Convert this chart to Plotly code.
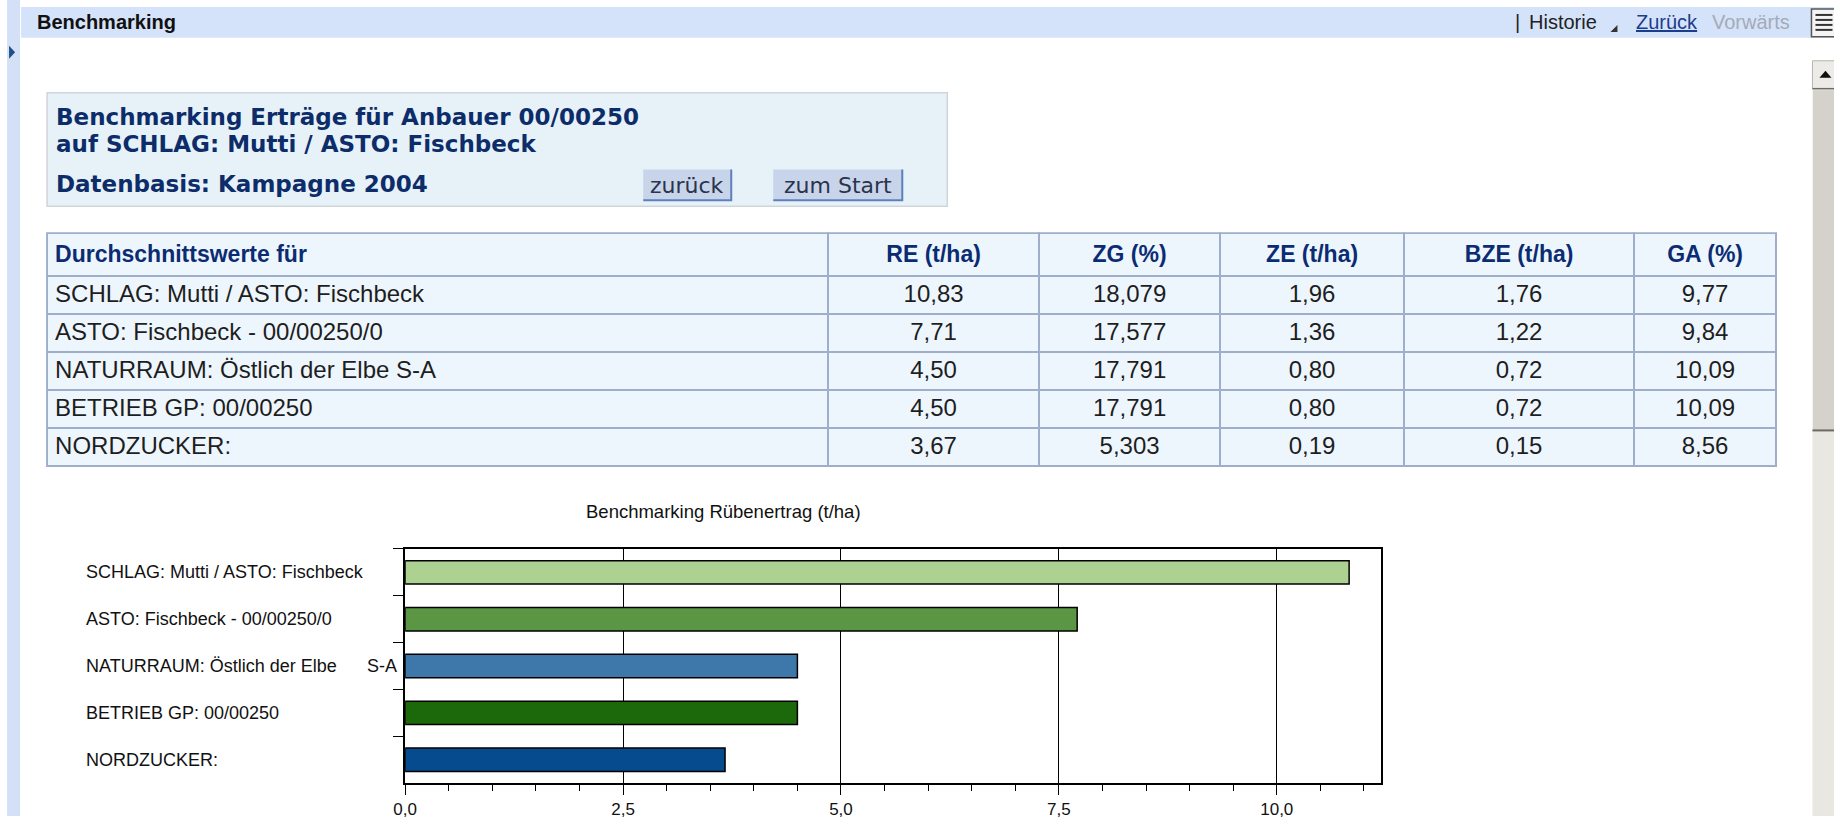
import plotly.graph_objects as go

W, H = 1834, 819

# ---------------- data ----------------
categories = [
    "SCHLAG: Mutti / ASTO: Fischbeck",
    "ASTO: Fischbeck - 00/00250/0",
    "NATURRAUM: Östlich der Elbe S-A",
    "BETRIEB GP: 00/00250",
    "NORDZUCKER:",
]
re_t_ha = [10.83, 7.71, 4.50, 4.50, 3.67]
zg_pct = [18.079, 17.577, 17.791, 17.791, 5.303]
ze_t_ha = [1.96, 1.36, 0.80, 0.80, 0.19]
bze_t_ha = [1.76, 1.22, 0.72, 0.72, 0.15]
ga_pct = [9.77, 9.84, 10.09, 10.09, 8.56]
column_headers = ["Durchschnittswerte für", "RE (t/ha)", "ZG (%)", "ZE (t/ha)", "BZE (t/ha)", "GA (%)"]

chart_title = "Benchmarking Rübenertrag (t/ha)"
chart_label_main = ["SCHLAG: Mutti / ASTO: Fischbeck", "ASTO: Fischbeck - 00/00250/0",
                    "NATURRAUM: Östlich der Elbe", "BETRIEB GP: 00/00250", "NORDZUCKER:"]
chart_label_wrap = ["", "", "S-A", "", ""]
x_tick_values = [0, 2.5, 5, 7.5, 10]
bar_colors = ["#acd190", "#5a9643", "#3e78aa", "#1b690b", "#064b8e"]

page_title = "Benchmarking"
header_lines = ["Benchmarking Erträge für Anbauer 00/00250",
                "auf SCHLAG: Mutti / ASTO: Fischbeck",
                "Datenbasis: Kampagne 2004"]
buttons = ["zurück", "zum Start"]


def px(x):
    # horizontal page position (pixels) -> paper fraction, with a small
    # empirical correction for the rendered horizontal placement
    return (1.0068 * x - 12.0) / W


def py(y):
    return 1 - y / H


def de(v, d):
    return f"{v:.{d}f}".replace(".", ",")


SANS = "Liberation Sans, Arial, sans-serif"
VERD = "DejaVu Sans, Verdana, sans-serif"
NAVY = "#0b2c72"

fig = go.Figure()

# ---------------- table ----------------
fig.add_trace(go.Table(
    domain=dict(x=[px(47), px(1776)], y=[py(469), py(234)]),
    columnwidth=[781, 211, 181, 184, 230, 142],
    header=dict(
        values=[f"<b>{h}</b>" for h in column_headers],
        fill_color="#eef6fd",
        line=dict(color="#9eaecb", width=1.5),
        align=["left"] + ["center"] * 5,
        font=dict(family=SANS, size=23, color=NAVY),
        height=43,
    ),
    cells=dict(
        values=[categories,
                [de(v, 2) for v in re_t_ha],
                [de(v, 3) for v in zg_pct],
                [de(v, 2) for v in ze_t_ha],
                [de(v, 2) for v in bze_t_ha],
                [de(v, 2) for v in ga_pct]],
        fill_color="#eef6fd",
        line=dict(color="#9eaecb", width=1.5),
        align=["left"] + ["center"] * 5,
        font=dict(family=SANS, size=24, color="#1e1e1e"),
        height=38,
    ),
))

# ---------------- bar chart ----------------
fig.add_trace(go.Bar(
    x=re_t_ha, y=categories, orientation="h", width=0.5,
    marker=dict(color=bar_colors, line=dict(color="black", width=1.5)),
    xaxis="x", yaxis="y", showlegend=False,
))

shapes = []
annotations = []

# left strip + top bar
shapes.append(dict(type="rect", xref="paper", yref="paper", x0=px(7), x1=px(20), y0=0, y1=1,
                   fillcolor="#d3e0f6", line_width=0, layer="below"))
shapes.append(dict(type="rect", xref="paper", yref="paper", x0=px(21), x1=1, y0=py(38), y1=py(7),
                   fillcolor="#d5e3fa", line_width=0, layer="below"))
shapes.append(dict(type="path", xref="paper", yref="paper",
                   path=f"M {px(9)} {py(46)} L {px(15)} {py(52.5)} L {px(9)} {py(59)} Z",
                   fillcolor="#1f4f8a", line_width=0))
annotations.append(dict(text=f"<b>{page_title}</b>", x=px(35), y=py(22), xref="paper", yref="paper",
                        xanchor="left", yanchor="middle", showarrow=False,
                        font=dict(family=SANS, size=20, color="#111")))
annotations.append(dict(text="|", x=px(1513), y=py(22), xref="paper", yref="paper",
                        xanchor="left", yanchor="middle", showarrow=False,
                        font=dict(family=SANS, size=20, color="#222")))
annotations.append(dict(text="Historie", x=px(1527), y=py(22), xref="paper", yref="paper",
                        xanchor="left", yanchor="middle", showarrow=False,
                        font=dict(family=SANS, size=20, color="#222")))
shapes.append(dict(type="path", xref="paper", yref="paper",
                   path=f"M {px(1610)} {py(32)} L {px(1617)} {py(25)} L {px(1617)} {py(32)} Z",
                   fillcolor="#333", line_width=0))
annotations.append(dict(text="<u>Zurück</u>", x=px(1634), y=py(22), xref="paper", yref="paper",
                        xanchor="left", yanchor="middle", showarrow=False,
                        font=dict(family=SANS, size=20, color="#1c3c8c")))
annotations.append(dict(text="Vorwärts", x=px(1710), y=py(22), xref="paper", yref="paper",
                        xanchor="left", yanchor="middle", showarrow=False,
                        font=dict(family=SANS, size=20, color="#a3abb9")))
# small icon at top right
shapes.append(dict(type="rect", xref="paper", yref="paper", x0=px(1811), x1=px(1836), y0=py(37), y1=py(9),
                   fillcolor="#f4f4f4", line=dict(color="#555", width=1.5)))
for yy in (15, 20, 25, 30):
    shapes.append(dict(type="line", xref="paper", yref="paper", x0=px(1815), x1=px(1832), y0=py(yy), y1=py(yy),
                       line=dict(color="#333", width=2)))

# scrollbar
shapes.append(dict(type="rect", xref="paper", yref="paper", x0=px(1812), x1=1, y0=0, y1=py(61),
                   fillcolor="#e9e7e2", line_width=0, layer="below"))
shapes.append(dict(type="rect", xref="paper", yref="paper", x0=px(1812), x1=1.002, y0=py(89), y1=py(61),
                   fillcolor="#ecebe7", line=dict(color="#b8b5ae", width=1)))
shapes.append(dict(type="path", xref="paper", yref="paper",
                   path=f"M {px(1819)} {py(78)} L {px(1825)} {py(71)} L {px(1831)} {py(78)} Z",
                   fillcolor="#111", line_width=0))
shapes.append(dict(type="rect", xref="paper", yref="paper", x0=px(1812), x1=1.002, y0=py(432), y1=py(90),
                   fillcolor="#d5d2cc", line=dict(color="#f4f3f0", width=1)))
shapes.append(dict(type="line", xref="paper", yref="paper", x0=px(1812), x1=1, y0=py(432), y1=py(432),
                   line=dict(color="#6b6a66", width=2)))
shapes.append(dict(type="line", xref="paper", yref="paper", x0=px(1812), x1=1, y0=py(89), y1=py(89),
                   line=dict(color="#6b6a66", width=1.5)))

# header box
shapes.append(dict(type="rect", xref="paper", yref="paper", x0=px(47), x1=px(947), y0=py(207), y1=py(93),
                   fillcolor="#e7f2f8", line=dict(color="#cfd5da", width=1.5), layer="below"))
for line_text, yy in zip(header_lines, (117, 145, 185)):
    annotations.append(dict(text=f"<b>{line_text}</b>", x=px(54), y=py(yy), xref="paper", yref="paper",
                            xanchor="left", yanchor="middle", showarrow=False,
                            font=dict(family=VERD, size=23, color="#0d2c6a")))
for label, (bx0, bx1) in zip(buttons, ((643, 731), (773, 902))):
    shapes.append(dict(type="rect", xref="paper", yref="paper", x0=px(bx0), x1=px(bx1), y0=py(201), y1=py(170),
                       fillcolor="#c8d4ea", line_width=0))
    shapes.append(dict(type="path", xref="paper", yref="paper",
                       path=f"M {px(bx0)} {py(201)} L {px(bx1)} {py(201)} L {px(bx1)} {py(170)}",
                       line=dict(color="#5d80bd", width=2)))
    annotations.append(dict(text=label, x=px((bx0 + bx1) / 2), y=py(186), xref="paper", yref="paper",
                            xanchor="center", yanchor="middle", showarrow=False,
                            font=dict(family=VERD, size=22, color="#2a344c")))

# chart title and category labels
annotations.append(dict(text=chart_title, x=px(723), y=py(513), xref="paper", yref="paper",
                        xanchor="center", yanchor="middle", showarrow=False,
                        font=dict(family=SANS, size=18.5, color="#111")))
for cat, main, wrap in zip(categories, chart_label_main, chart_label_wrap):
    annotations.append(dict(text=main, x=px(84), y=cat, xref="paper", yref="y",
                            xanchor="left", yanchor="middle", showarrow=False,
                            font=dict(family=SANS, size=18, color="#111")))
    if wrap:
        annotations.append(dict(text=wrap, x=px(399), y=cat, xref="paper", yref="y",
                                xanchor="right", yanchor="middle", showarrow=False,
                                font=dict(family=SANS, size=18, color="#111")))

fig.update_layout(
    width=W, height=H,
    margin=dict(l=0, r=0, t=0, b=0),
    paper_bgcolor="white", plot_bgcolor="white",
    separators=",.",
    showlegend=False,
    shapes=shapes,
    annotations=annotations,
    xaxis=dict(
        domain=[px(405), px(1381)], range=[0, 11.2],
        tickmode="array", tickvals=x_tick_values, tickformat=".1f",
        ticks="outside", ticklen=10, tickcolor="black", tickwidth=1.2,
        minor=dict(dtick=0.5, tick0=0, ticks="outside", ticklen=6, tickcolor="black", tickwidth=1.2, showgrid=False),
        showgrid=True, gridcolor="black", gridwidth=1.2,
        showline=True, linecolor="black", linewidth=1.5, mirror=True,
        zeroline=False, fixedrange=True,
        tickfont=dict(family=SANS, size=17, color="#111"),
    ),
    yaxis=dict(
        domain=[py(786), py(551)],
        type="category", categoryorder="array", categoryarray=categories, autorange="reversed",
        ticks="outside", tickson="boundaries", ticklen=10, tickcolor="black", tickwidth=1.2,
        showticklabels=False, showgrid=False,
        showline=True, linecolor="black", linewidth=1.5, mirror=True,
        zeroline=False, fixedrange=True,
    ),
)

fig.write_html(
    "out.html",
    config={"displayModeBar": False},
    post_script="document.body.style.margin='0';document.body.style.overflow='hidden';",
)
